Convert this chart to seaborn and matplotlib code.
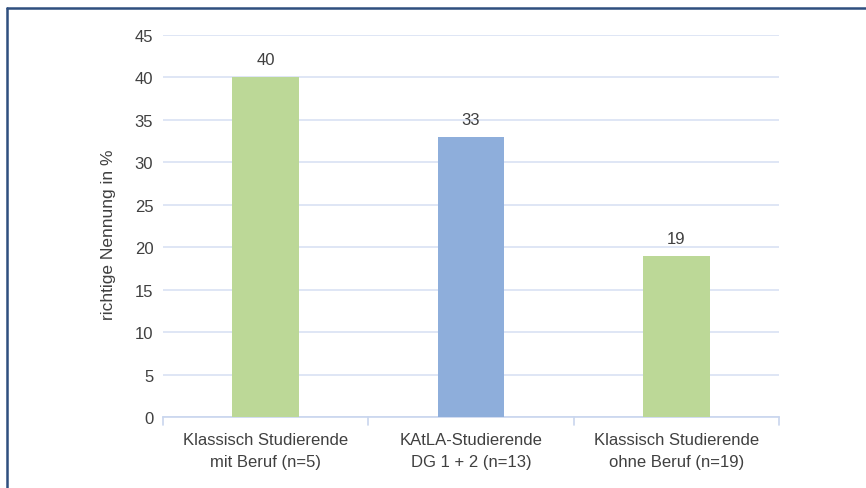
import matplotlib
matplotlib.use("Agg")
import matplotlib.pyplot as plt
import seaborn as sns
import pandas as pd
from matplotlib.lines import Line2D

categories = ["Klassisch Studierende\nmit Beruf (n=5)",
              "KAtLA-Studierende\nDG 1 + 2 (n=13)",
              "Klassisch Studierende\nohne Beruf (n=19)"]
values = [40, 33, 19]
colors = ["#bcd897", "#8eaedb", "#bcd897"]
y_ticks = [0, 5, 10, 15, 20, 25, 30, 35, 40, 45]
y_label = "richtige Nennung in %"

sns.set_theme(style="white")
plt.rcParams['font.family'] = ['Liberation Sans', 'DejaVu Sans']

W, H = 866, 489
fig = plt.figure(figsize=(W/100, H/100), dpi=100)
ax = fig.add_axes([163/W, 1-418/H, (779-163)/W, (418-36)/H])

df = pd.DataFrame({"cat": categories, "val": values})
sns.barplot(data=df, x="cat", y="val", hue="cat", palette=colors, legend=False,
            width=0.325, ax=ax, saturation=1, zorder=3, linewidth=0)

ax.set_ylim(0, 45)
ax.set_xlim(-0.5, 2.5)
ax.set_yticks(y_ticks)
ax.grid(axis="y", color="#d9e2f3", linewidth=1.2, zorder=0)
ax.set_axisbelow(True)
for s in ["top", "right", "left"]:
    ax.spines[s].set_visible(False)
ax.spines["bottom"].set_color("#c9d6ee")
ax.spines["bottom"].set_linewidth(1.2)

txt = "#404040"
ax.tick_params(axis="y", length=0, labelsize=12, labelcolor=txt, pad=7)
ax.tick_params(axis="x", length=0, labelsize=12, labelcolor=txt, pad=11)
for lbl in ax.get_xticklabels():
    lbl.set_linespacing(1.55)
# category boundary ticks
for xb in [-0.5, 0.5, 1.5, 2.5]:
    ax.plot([xb, xb], [0, -0.9], color="#c9d6ee", lw=1.2, clip_on=False)

ax.set_xlabel("")
ax.set_ylabel(y_label, fontsize=12.5, color=txt)
ax.yaxis.set_label_coords((116 - 163) / 616, (418 - 235) / 382)

for i, v in enumerate(values):
    ax.text(i, v + 1.2, f"{v}", ha="center", va="bottom", fontsize=12, color=txt)

# frame (left and top only visible)
fig.add_artist(Line2D([6.5/W, 6.5/W], [0, 1-9/H], transform=fig.transFigure,
                      color="#2f4f7f", lw=1.8))
fig.add_artist(Line2D([6.5/W, 1], [1-9/H, 1-9/H], transform=fig.transFigure,
                      color="#2f4f7f", lw=1.8))

fig.savefig("out.png", dpi=100, facecolor="white")
